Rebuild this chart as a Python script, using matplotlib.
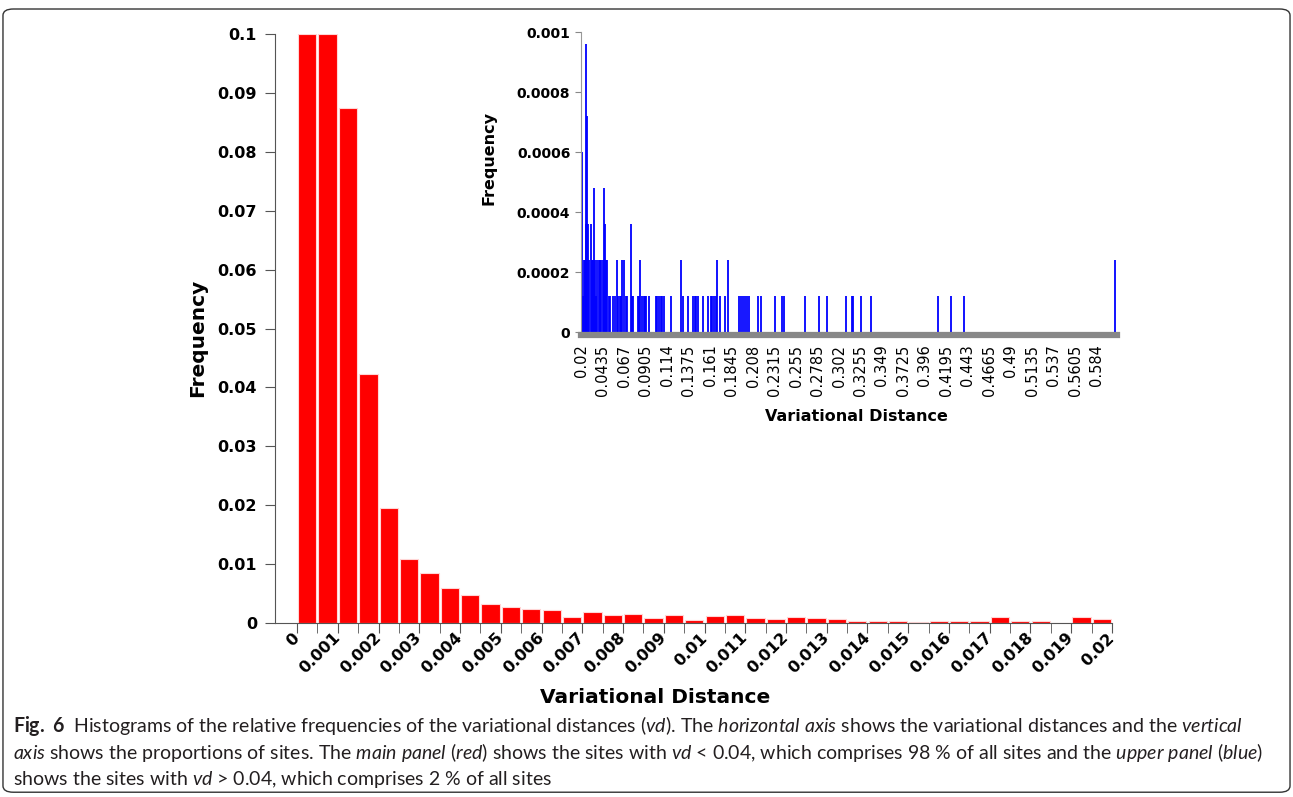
# Histograms of variational distances (main: red, inset: blue)

import numpy as np
import matplotlib.pyplot as plt
from matplotlib.patches import FancyBboxPatch
from matplotlib.ticker import FormatStrFormatter

plt.rcParams['mathtext.fontset'] = 'custom'
plt.rcParams['mathtext.rm'] = 'Lato'
plt.rcParams['mathtext.it'] = 'Lato:italic'
plt.rcParams['mathtext.bf'] = 'Lato:bold'

# main panel: bins of 0.0005 from 0 to 0.02
bin_width = 0.0005
main_freq = [0.1, 0.1, 0.0874, 0.0423, 0.0196, 0.0108, 0.0085, 0.0060, 0.0047, 0.0032,
             0.0028, 0.0024, 0.0022, 0.0011, 0.0019, 0.0014, 0.0016, 0.0008, 0.0013, 0.0005,
             0.0012, 0.0014, 0.0009, 0.0006, 0.0011, 0.0009, 0.0006, 0.0004, 0.0003, 0.0004,
             0.0002, 0.0003, 0.0004, 0.0004, 0.0011, 0.0003, 0.0003, 0.0, 0.0011, 0.0006]
main_ticks = [0, 0.001, 0.002, 0.003, 0.004, 0.005, 0.006, 0.007, 0.008, 0.009, 0.01,
              0.011, 0.012, 0.013, 0.014, 0.015, 0.016, 0.017, 0.018, 0.019, 0.02]
main_yticks = [0, 0.01, 0.02, 0.03, 0.04, 0.05, 0.06, 0.07, 0.08, 0.09, 0.1]

# inset panel: vd > 0.02, frequency in units of one site
unit = 0.00012
inset_vd = [0.0203, 0.0213, 0.0224, 0.0235, 0.0247, 0.0255, 0.0264, 0.0274, 0.0288, 0.0300,
            0.0312, 0.0324, 0.0339, 0.0351, 0.0361, 0.0375, 0.0389, 0.0405, 0.0419, 0.0433,
            0.0447, 0.0458, 0.0470, 0.0485, 0.0501, 0.0515, 0.0547, 0.0565, 0.0587, 0.0602,
            0.0618, 0.0636, 0.0647, 0.0669, 0.0687, 0.0704, 0.0737, 0.0748, 0.0762, 0.0819,
            0.0832, 0.0846, 0.0865, 0.0881, 0.0895, 0.0912, 0.0942, 0.1013, 0.1030, 0.1049,
            0.1067, 0.1085, 0.1103, 0.1175, 0.1292, 0.1307, 0.1369, 0.1424, 0.1440, 0.1454,
            0.1481, 0.1534, 0.1589, 0.1615, 0.1634, 0.1653, 0.1673, 0.1687, 0.1717, 0.1771,
            0.1807, 0.1928, 0.1949, 0.1965, 0.1987, 0.2010, 0.2032, 0.2129, 0.2166, 0.2319,
            0.2396, 0.2414, 0.2644, 0.2804, 0.2885, 0.3093, 0.3165, 0.3175, 0.3261, 0.3370,
            0.4107, 0.4246, 0.4385, 0.6042]
inset_count = [5, 1, 2, 2, 8, 3, 6, 3, 2, 3,
               2, 2, 4, 2, 1, 2, 2, 2, 2, 2,
               4, 3, 2, 2, 1, 1, 1, 1, 2, 1,
               1, 1, 2, 2, 1, 1, 3, 1, 1, 1,
               1, 2, 1, 1, 1, 1, 1, 1, 1, 1,
               1, 1, 1, 1, 2, 1, 1, 1, 1, 1,
               1, 1, 1, 1, 1, 1, 1, 2, 1, 1,
               2, 1, 1, 1, 1, 1, 1, 1, 1, 1,
               1, 1, 1, 1, 1, 1, 1, 1, 1, 1,
               1, 1, 1, 2]
inset_labels = ['0.02', '0.0435', '0.067', '0.0905', '0.114', '0.1375', '0.161', '0.1845',
                '0.208', '0.2315', '0.255', '0.2785', '0.302', '0.3255', '0.349', '0.3725',
                '0.396', '0.4195', '0.443', '0.4665', '0.49', '0.5135', '0.537', '0.5605', '0.584']
inset_yticks = [0, 0.0002, 0.0004, 0.0006, 0.0008, 0.001]

caption = [
    r"$\mathbf{Fig.\ 6}$  Histograms of the relative frequencies of the variational distances ($\mathit{vd}$). "
    r"The $\mathit{horizontal\ axis}$ shows the variational distances and the $\mathit{vertical}$",
    r"$\mathit{axis}$ shows the proportions of sites. The $\mathit{main\ panel}$ ($\mathit{red}$) shows the sites with "
    r"$\mathit{vd}$ < 0.04, which comprises 98 % of all sites and the $\mathit{upper\ panel}$ ($\mathit{blue}$)",
    r"shows the sites with $\mathit{vd}$ > 0.04, which comprises 2 % of all sites",
]

fig = plt.figure(figsize=(12.93, 7.97), dpi=100)

# ---- main panel
ax = fig.add_axes([0.2127, 0.2183, 0.6473, 0.739])
lefts = np.arange(len(main_freq)) * bin_width
ax.bar(lefts + bin_width / 2, main_freq, width=bin_width * 0.9, color='#ff0000',
       edgecolor='#ffd6d6', linewidth=0.8)
ax.set_xlim(-0.00054, 0.02)
ax.set_ylim(0, 0.1)
ax.tick_params(axis='x', which='both', length=7, color='#555555', pad=2)
ax.tick_params(axis='y', length=7, color='#555555', pad=6)
ax.set_xticks(main_ticks)
ax.set_xticks(np.arange(0, 0.0201, bin_width), minor=True)
ax.set_xticklabels([('%g' % t) for t in main_ticks], rotation=45, ha='right', va='center',
                   rotation_mode='anchor', fontweight='bold', fontsize=11.5)
ax.set_yticks(main_yticks)
ax.yaxis.set_major_formatter(FormatStrFormatter('%g'))
for lab in ax.get_yticklabels():
    lab.set_fontweight('bold')
    lab.set_fontsize(11.5)
for s in ['top', 'right']:
    ax.spines[s].set_visible(False)
ax.spines['left'].set_color('#555555')
ax.spines['bottom'].set_color('#555555')
ax.set_xlabel('Variational Distance', fontweight='bold', fontsize=14.5)
ax.xaxis.set_label_coords(0.454, -0.111)
ax.set_ylabel('Frequency', fontweight='bold', fontsize=14.5)
ax.yaxis.set_label_coords(-0.081, 0.484)

# ---- inset panel
ax2 = fig.add_axes([0.4497, 0.5834, 0.4142, 0.3764])
ax2.vlines(inset_vd, 0, np.array(inset_count) * unit, color='#0000ff', linewidth=1.3)
ax2.set_xlim(0.02, 0.6064)
ax2.set_ylim(0, 0.001)
ax2.tick_params(axis='x', length=0, pad=7, labelrotation=90, labelsize=10.5)
ax2.tick_params(axis='y', length=4, color='#888888', pad=4)
ax2.set_xticks([float(t) for t in inset_labels], labels=inset_labels)
for lab in ax2.get_xticklabels():
    lab.set_rotation(90)
ax2.set_yticks(inset_yticks)
ax2.yaxis.set_major_formatter(FormatStrFormatter('%g'))
for lab in ax2.get_yticklabels():
    lab.set_fontweight('bold')
    lab.set_fontsize(10)
for s in ['top', 'right']:
    ax2.spines[s].set_visible(False)
ax2.spines['left'].set_color('#999999')
ax2.spines['bottom'].set_color('#888888')
ax2.spines['bottom'].set_linewidth(4.5)
ax2.spines['bottom'].set_position(('outward', 2))
ax2.set_xlabel('Variational Distance', fontweight='bold', fontsize=11.5)
ax2.xaxis.set_label_coords(0.514, -0.257)
ax2.set_ylabel('Frequency', fontweight='bold', fontsize=11.5)
ax2.yaxis.set_label_coords(-0.158, 0.58)

# ---- caption and frame
for i, line in enumerate(caption):
    fig.text(0.0101, 0.0895 - i * 0.0338, line, fontsize=14.05, family='Lato',
             color='#231f20', va='center', ha='left')

frame = FancyBboxPatch((0.0023, 0.006), 0.9954, 0.9827, transform=fig.transFigure,
                       boxstyle='round,pad=0,rounding_size=0.008', facecolor='none',
                       edgecolor='#333333', linewidth=1.0)
fig.patches.append(frame)

plt.savefig('out.png', dpi=100)
